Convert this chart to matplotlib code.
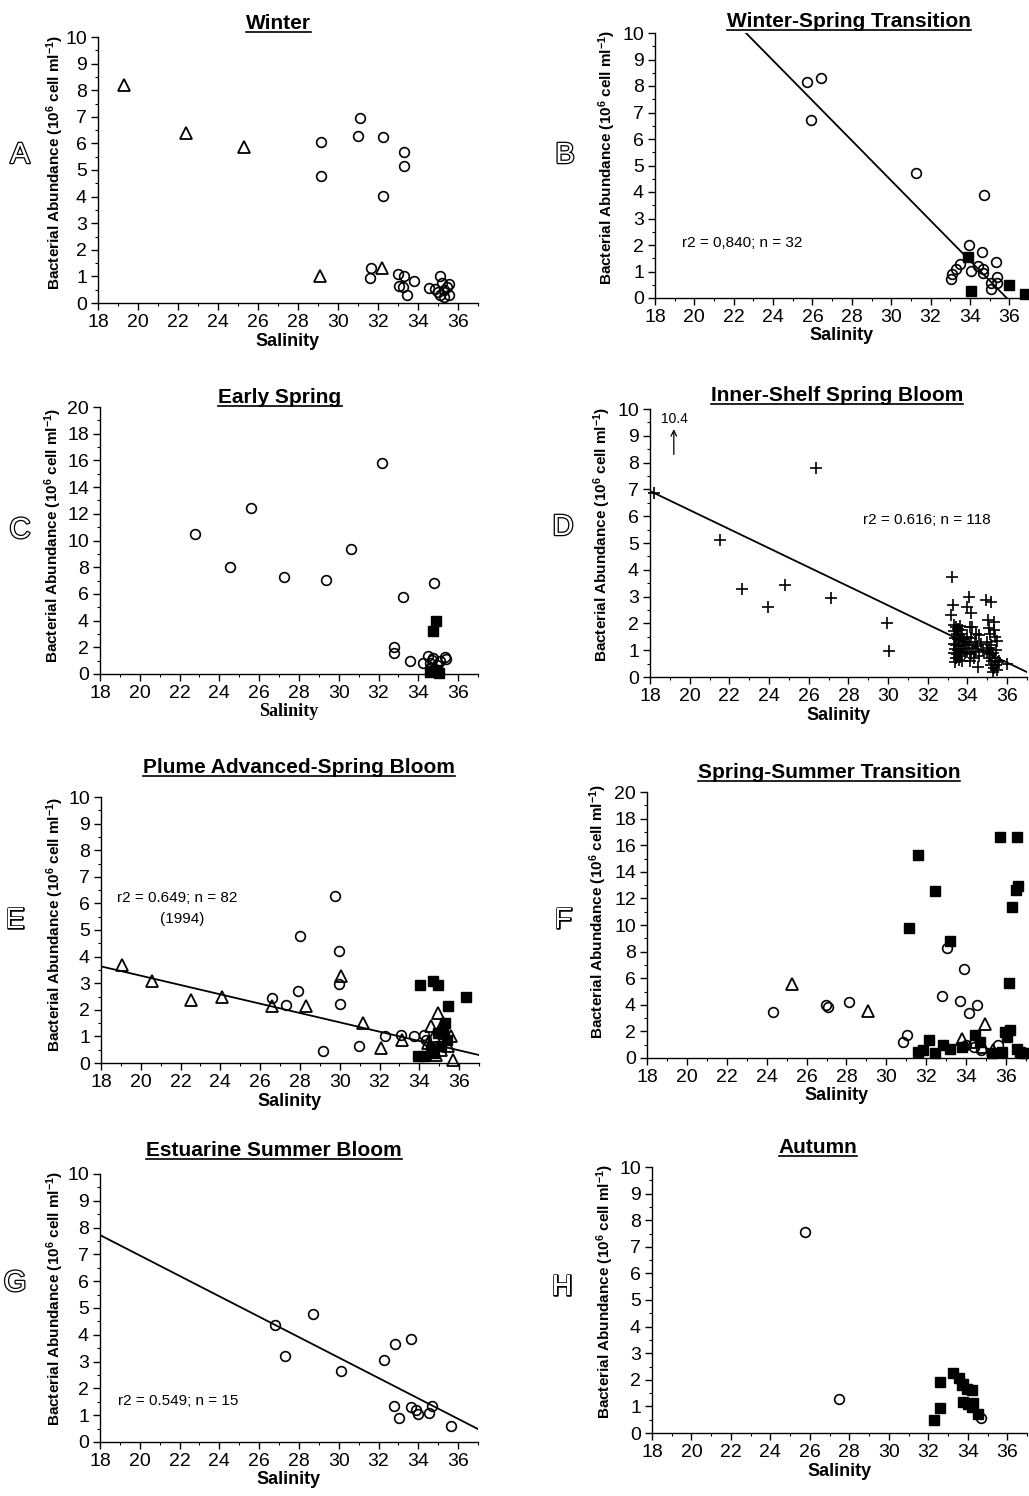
"""Bacterial abundance vs salinity, eight seasonal panels"""

import numpy as np
import matplotlib
matplotlib.use('Agg')
import matplotlib.pyplot as plt
import matplotlib.patheffects as pe
from matplotlib import font_manager as fm
from matplotlib.lines import Line2D

W, H = 1029, 1496
plt.rcParams['font.family'] = ['Liberation Sans', 'DejaVu Sans']
plt.rcParams['mathtext.default'] = 'regular'

# ---- data ----
# A  Winter
a_tri_x = [19.3, 22.4, 25.3, 29.1, 32.2]
a_tri_y = [8.2, 6.4, 5.85, 1.02, 1.3]
a_circ_x = [29.15, 29.15, 31.1, 31.0, 32.25, 32.25, 33.3, 33.3, 31.65, 31.6, 33.0, 33.05,
            33.3, 33.25, 33.45, 33.8, 34.55, 34.85, 35.1, 35.2, 35.0, 35.3, 35.55, 35.55,
            35.3, 35.1, 35.45]
a_circ_y = [6.04, 4.77, 6.95, 6.29, 6.24, 4.03, 5.66, 5.16, 1.33, 0.95, 1.09, 0.64,
            1.0, 0.59, 0.3, 0.83, 0.56, 0.54, 1.02, 0.74, 0.43, 0.49, 0.73, 0.3,
            0.24, 0.3, 0.61]

# B  Winter-Spring Transition
b_fit = (27.08, -0.755)
b_circ_x = [25.7, 26.45, 25.95, 31.25, 34.7, 33.95, 34.6, 33.5, 35.3, 34.4, 34.65, 33.3,
            33.1, 34.05, 34.65, 33.05, 35.35, 35.05, 35.35, 35.05]
b_circ_y = [8.15, 8.3, 6.72, 4.72, 3.9, 2.0, 1.73, 1.27, 1.35, 1.2, 1.1, 1.08,
            0.9, 1.02, 0.95, 0.73, 0.78, 0.58, 0.58, 0.35]
b_sq_x = [33.9, 34.05, 36.0, 36.8]
b_sq_y = [1.55, 0.28, 0.5, 0.16]

# C  Early Spring
c_circ_x = [22.75, 24.55, 25.6, 27.25, 29.35, 30.6, 32.15, 33.25, 34.8, 32.8, 32.8, 33.6,
            34.25, 34.5, 34.6, 34.75, 34.95, 35.1, 35.35, 35.4, 34.6, 34.85, 34.7]
c_circ_y = [10.45, 8.0, 12.45, 7.3, 7.05, 9.4, 15.8, 5.8, 6.8, 2.05, 1.6, 0.95,
            0.8, 1.35, 0.8, 1.2, 0.7, 0.95, 1.3, 1.1, 0.45, 0.3, 1.05]
c_sq_x = [34.9, 34.75, 34.75, 34.95, 34.6, 35.05]
c_sq_y = [3.95, 3.2, 0.2, 0.3, 0.15, 0.1]

# D  Inner-Shelf Spring Bloom
d_fit = (13.34, -0.3556)
d_plus_x = [18.2, 21.55, 22.65, 23.95, 24.8, 26.35, 27.1, 29.95, 30.05,
            33.2, 33.25, 33.15, 34.1, 34.0, 34.2, 34.15, 34.95, 35.2, 35.05, 35.35, 35.1, 36.0,
            33.3, 33.4, 33.5, 33.6, 33.7, 33.3, 33.45, 33.55, 33.65, 33.35, 33.5, 33.6, 33.75,
            33.3, 33.4, 33.55, 33.7, 33.35, 33.5, 33.65, 33.8, 33.3, 33.45, 33.6, 33.4, 33.55,
            33.35, 33.7, 33.9, 33.9,
            34.0, 34.2, 34.4, 34.6, 34.1, 34.3, 34.5, 34.7, 34.0, 34.2, 34.4, 34.6, 34.15,
            34.35, 34.55, 34.8, 34.25, 34.45,
            35.0, 35.1, 35.2, 35.4, 35.5, 35.0, 35.15, 35.3, 35.45, 35.1, 35.25, 35.4, 35.55,
            35.2, 35.35, 35.5, 35.3, 35.6, 35.45, 35.15, 35.35]
d_plus_y = [6.87, 5.1, 3.3, 2.6, 3.42, 7.78, 2.93, 2.0, 0.96,
            3.74, 2.68, 2.3, 2.98, 2.63, 2.37, 1.87, 2.88, 2.78, 2.12, 2.05, 1.81, 0.5,
            1.95, 1.85, 1.8, 1.9, 1.75, 1.7, 1.6, 1.55, 1.6, 1.45, 1.4, 1.35, 1.4,
            1.25, 1.2, 1.15, 1.2, 1.05, 1.0, 0.95, 1.05, 0.9, 0.85, 0.8, 0.7, 0.65,
            0.55, 0.6, 1.3, 0.9,
            1.5, 1.45, 1.3, 1.55, 1.2, 1.1, 1.15, 1.25, 0.95, 0.85, 0.95, 0.8, 0.6,
            0.7, 0.38, 1.0, 1.85, 1.6,
            1.3, 1.1, 1.2, 1.5, 1.35, 0.95, 0.85, 0.9, 1.0, 0.7, 0.6, 0.7, 0.55,
            0.45, 0.35, 0.25, 0.2, 0.6, 0.45, 1.6, 1.75]

# E  Plume Advanced-Spring Bloom
e_fit = (6.79, -0.1754)
e_tri_x = [19.05, 20.55, 22.5, 24.1, 26.6, 28.3, 30.05, 31.15, 32.05, 33.15, 34.95, 34.6,
           34.75, 35.3, 35.6, 35.7, 34.45, 35.1, 35.45, 35.2, 34.85]
e_tri_y = [3.67, 3.07, 2.38, 2.5, 2.13, 2.13, 3.26, 1.5, 0.56, 0.88, 1.88, 1.38,
           1.0, 1.13, 1.0, 0.13, 0.75, 0.5, 0.63, 1.5, 0.3]
e_circ_x = [29.75, 28.0, 29.95, 29.95, 30.0, 27.9, 26.6, 27.3, 29.15, 30.95, 32.25, 33.1,
            33.75, 34.25, 34.35, 34.6]
e_circ_y = [6.27, 4.76, 4.22, 2.97, 2.23, 2.69, 2.43, 2.19, 0.44, 0.65, 1.0, 1.07,
            1.0, 1.07, 0.88, 0.6]
e_sq_x = [34.05, 34.7, 34.95, 35.45, 36.35, 33.95, 34.25, 35.3, 34.95, 35.1, 34.75, 35.4,
          34.6, 35.2]
e_sq_y = [2.95, 3.07, 2.92, 2.13, 2.47, 0.25, 0.25, 1.5, 1.13, 0.63, 0.38, 0.88,
          0.5, 1.2]

# F  Spring-Summer Transition
f_sq_x = [35.7, 36.55, 31.6, 32.45, 36.6, 36.5, 36.3, 31.15, 33.2, 36.15, 31.6, 31.85,
          32.15, 32.45, 32.85, 33.2, 33.8, 34.45, 34.7, 35.95, 36.2, 36.05, 35.8, 36.55,
          36.7, 36.9, 35.3]
f_sq_y = [16.6, 16.6, 15.3, 12.55, 12.9, 12.6, 11.35, 9.8, 8.8, 5.65, 0.45, 0.6,
          1.35, 0.4, 0.95, 0.7, 0.85, 1.7, 1.2, 1.95, 2.1, 1.6, 0.45, 0.7,
          0.45, 0.4, 0.35]
f_circ_x = [24.3, 26.95, 27.05, 28.15, 33.05, 33.9, 32.8, 33.7, 34.55, 34.15, 31.05, 30.85,
            35.6, 34.0, 34.4, 34.75]
f_circ_y = [3.45, 3.95, 3.85, 4.2, 8.3, 6.7, 4.65, 4.3, 4.0, 3.35, 1.7, 1.2,
            0.95, 1.0, 0.8, 0.6]
f_tri_x = [25.25, 29.1, 34.95, 33.8, 34.35, 34.85, 35.35]
f_tri_y = [5.6, 3.55, 2.55, 1.45, 1.2, 0.85, 0.6]

# G  Estuarine Summer Bloom
g_fit = (14.58, -0.381)
g_circ_x = [26.8, 27.3, 28.7, 30.1, 32.3, 32.85, 33.65, 32.8, 33.05, 33.65, 33.9, 34.0,
            34.55, 34.7, 35.65]
g_circ_y = [4.36, 3.21, 4.77, 2.64, 3.05, 3.64, 3.86, 1.34, 0.9, 1.31, 1.21, 1.03,
            1.1, 1.33, 0.59]

# H  Autumn
h_circ_x = [25.75, 27.45, 34.65]
h_circ_y = [7.56, 1.29, 0.56]
h_sq_x = [32.3, 32.6, 32.6, 33.25, 33.55, 33.7, 33.95, 34.2, 33.75, 34.0, 34.25, 34.2,
          34.5, 33.75]
h_sq_y = [0.5, 0.95, 1.9, 2.27, 2.05, 1.8, 1.67, 1.6, 1.17, 1.1, 1.13, 0.98,
          0.73, 1.86]

# ---- fonts ----
names = {f.name for f in fm.fontManager.ttflist}
if 'Liberation Sans Narrow' in names:
    ylab_family, ylab_size = 'Liberation Sans Narrow', 12
else:
    ylab_family, ylab_size = 'Liberation Sans', 11
YLABEL = 'Bacterial Abundance (10$^6$ cell ml$^{-1}$)'

fig = plt.figure(figsize=(W / 100, H / 100), dpi=100)


def px_axes(left, top, right, bottom):
    return fig.add_axes([left / W, 1 - bottom / H, (right - left) / W, (bottom - top) / H])


def setup(ax, xmax, ymax, serif=False):
    ax.set_xlim(18, xmax)
    ax.set_ylim(0, ymax)
    for s in ('top', 'right'):
        ax.spines[s].set_visible(False)
    for s in ('left', 'bottom'):
        ax.spines[s].set_linewidth(1.0)
    ax.set_xticks(np.arange(18, 37, 2))
    ax.set_xticks(np.arange(19, 38, 2), minor=True)
    step = ymax // 10
    ax.set_yticks(np.arange(0, ymax + 1, step))
    ax.set_yticks(np.arange(step / 2, ymax, step), minor=True)
    ax.tick_params(which='major', direction='out', length=5, width=1, labelsize=14, pad=3)
    ax.tick_params(which='minor', direction='out', length=2.5, width=0.8)
    fam = 'Liberation Serif' if serif else 'Liberation Sans'
    ax.set_xlabel('Salinity', fontsize=13, fontweight='bold', family=fam, labelpad=1)
    ax.patch.set_alpha(0)


def pts(ax, x, y, kind):
    if kind == 'o':
        ax.plot(x, y, 'o', ms=7, mfc='none', mec='black', mew=1.2, ls='none', clip_on=False)
    elif kind == '^':
        ax.plot(x, y, '^', ms=8.5, mfc='none', mec='black', mew=1.3, ls='none', clip_on=False)
    elif kind == 's':
        ax.plot(x, y, 's', ms=6.5, mfc='black', mec='black', ls='none', clip_on=False)
    elif kind == '+':
        ax.plot(x, y, '+', ms=8.5, mec='black', mew=1.2, ls='none', clip_on=False)


def fit_line(ax, fit):
    xs = np.array(ax.get_xlim())
    ax.plot(xs, fit[0] + fit[1] * xs, color='black', lw=1.3)


titles = []


def decorate(title, tx, tbase, letter, lx, ly, yx, yy):
    titles.append(fig.text(tx / W, 1 - tbase / H, title, ha='center', va='baseline',
                           fontsize=15, fontweight='bold'))
    fig.text(lx / W, 1 - ly / H, letter, ha='center', va='center', fontsize=21,
             color='white', path_effects=[pe.withStroke(linewidth=1.8, foreground='black')])
    fig.text(yx / W, 1 - yy / H, YLABEL, rotation=90, ha='center', va='center',
             fontsize=ylab_size, fontweight='bold', family=[ylab_family, 'DejaVu Sans'])


# A
ax = px_axes(98, 37, 478, 303)
setup(ax, 37, 10)
pts(ax, a_tri_x, a_tri_y, '^')
pts(ax, a_circ_x, a_circ_y, 'o')
decorate('Winter', 278, 29, 'A', 20, 155, 55, 162)

# B
ax = px_axes(655, 33, 1029, 298)
setup(ax, 36.86, 10)
fit_line(ax, b_fit)
pts(ax, b_circ_x, b_circ_y, 'o')
pts(ax, b_sq_x, b_sq_y, 's')
ax.text(19.35, 2.08, 'r2 = 0,840; n = 32', fontsize=11, va='center')
decorate('Winter-Spring Transition', 849, 27, 'B', 565, 155, 607, 157)

# C
ax = px_axes(100, 407, 478, 674)
setup(ax, 37, 20, serif=True)
pts(ax, c_circ_x, c_circ_y, 'o')
pts(ax, c_sq_x, c_sq_y, 's')
decorate('Early Spring', 280, 403, 'C', 20, 530, 53, 535)

# D
ax = px_axes(650, 409, 1027, 677)
setup(ax, 36.9, 10)
fit_line(ax, d_fit)
pts(ax, d_plus_x, d_plus_y, '+')
ax.annotate('', xy=(19.2, 9.35), xytext=(19.2, 8.2),
            arrowprops=dict(arrowstyle='->', lw=0.9, color='black'))
ax.text(19.25, 9.62, '10.4', ha='center', va='center', fontsize=10)
ax.text(28.75, 5.84, 'r2 = 0.616; n = 118', fontsize=11, va='center')
decorate('Inner-Shelf Spring Bloom', 837, 401, 'D', 563, 527, 602, 534)

# E
ax = px_axes(101, 797, 479, 1063)
setup(ax, 37, 10)
fit_line(ax, e_fit)
pts(ax, e_circ_x, e_circ_y, 'o')
pts(ax, e_sq_x, e_sq_y, 's')
pts(ax, e_tri_x, e_tri_y, '^')
ax.text(18.8, 6.2, 'r2 = 0.649; n = 82', fontsize=11, va='center')
ax.text(22.1, 5.41, '(1994)', fontsize=11, va='center', ha='center')
decorate('Plume Advanced-Spring Bloom', 299, 773, 'E', 15, 920, 55, 924)

# F
ax = px_axes(647, 792, 1027, 1058)
setup(ax, 37.05, 20)
pts(ax, f_circ_x, f_circ_y, 'o')
pts(ax, f_tri_x, f_tri_y, '^')
pts(ax, f_sq_x, f_sq_y, 's')
decorate('Spring-Summer Transition', 829, 778, 'F', 563, 920, 598, 911)

# G
ax = px_axes(100, 1174, 478, 1442)
setup(ax, 37, 10)
fit_line(ax, g_fit)
pts(ax, g_circ_x, g_circ_y, 'o')
ax.text(18.9, 1.53, 'r2 = 0.549; n = 15', fontsize=11, va='center')
decorate('Estuarine Summer Bloom', 274, 1156, 'G', 15, 1283, 55, 1298)

# H
ax = px_axes(652, 1167, 1027, 1433)
setup(ax, 37, 10)
pts(ax, h_sq_x, h_sq_y, 's')
pts(ax, h_circ_x, h_circ_y, 'o')
decorate('Autumn', 818, 1153, 'H', 562, 1287, 605, 1291)

# underline the titles
fig.canvas.draw()
r = fig.canvas.get_renderer()
for t in titles:
    bb = t.get_window_extent(r)
    y = t.get_position()[1] - 3 / H
    fig.add_artist(Line2D([bb.x0 / W, bb.x1 / W], [y, y], transform=fig.transFigure,
                          color='black', lw=1.2))

fig.savefig('out.png', dpi=100)
